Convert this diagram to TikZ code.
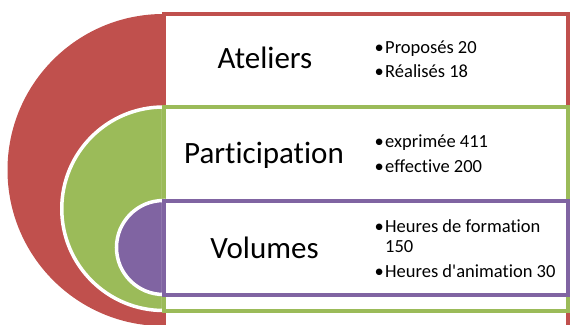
\documentclass[tikz,border=0pt]{standalone}
\usepackage{fontspec}
\setmainfont{Carlito}[Ligatures=NoCommon]
\definecolor{cred}{HTML}{C0504D}
\definecolor{cgreen}{HTML}{9BBB59}
\definecolor{cpurple}{HTML}{8064A2}
\tikzset{
  half/.style={line width=3.5pt, draw=white},
  frame/.style={line width=4pt, fill=white},
  title/.style={anchor=base, inner sep=0pt, font=\fontsize{31}{36}\selectfont},
  itemtext/.style={anchor=base west, inner sep=0pt, font=\fontsize{18.5}{22}\selectfont},
  bul/.style={anchor=base west, inner sep=0pt, font=\fontsize{18.5}{22}\selectfont}
}
\begin{document}
\begin{tikzpicture}[x=1pt,y=-1pt]
\useasboundingbox (0,0) rectangle (570,324);
\clip (0,0) rectangle (570,324);
% red level
\fill[cred] (163.5,14) arc[start angle=270,end angle=90,radius=156] -- cycle;
\draw[frame, draw=cred] (163.5,13.5) rectangle (567.5,345);
% green level
\filldraw[half, fill=cgreen] (163.5,107) arc[start angle=270,end angle=90,radius=101.75] -- cycle;
\draw[frame, draw=cgreen] (163.5,107) rectangle (567.5,310.5);
% purple level
\filldraw[half, fill=cpurple] (163.5,200.5) arc[start angle=270,end angle=90,radius=47] -- cycle;
\draw[frame, draw=cpurple] (163.5,200.5) rectangle (567.5,294.5);
% titles
\node[title] (t1) at (265,68) {Ateliers};
\node[title] (t2) at (264,163) {Participation};
\node[title] (t3) at (264.5,258) {Volumes};
% bullets
\node[bul] (b11) at (374.5,53) {•};
\node[itemtext] (i11) at (385,53) {Proposés 20};
\node[bul] (b12) at (374.5,77) {•};
\node[itemtext] (i12) at (385,77) {Réalisés 18};
\node[bul] (b21) at (374.5,147) {•};
\node[itemtext] (i21) at (385,147) {exprimée 411};
\node[bul] (b22) at (374.5,172) {•};
\node[itemtext] (i22) at (385,172) {effective 200};
\node[bul] (b31) at (374.5,232) {•};
\node[itemtext] (i31) at (385,232) {Heures de formation};
\node[itemtext] (i31b) at (385,252) {150};
\node[bul] (b32) at (374.5,277) {•};
\node[itemtext] (i32) at (385,277) {Heures d\textquotesingle animation 30};
\end{tikzpicture}
\end{document}
